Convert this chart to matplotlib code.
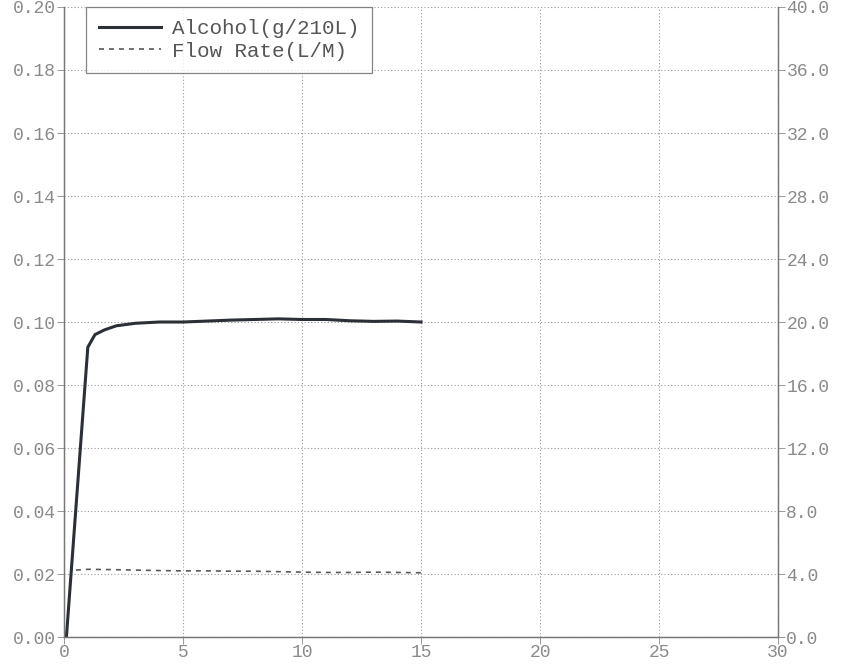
import matplotlib
matplotlib.use("Agg")
import matplotlib.pyplot as plt
from matplotlib.ticker import FormatStrFormatter

# breath test trace
time_s = [0, 0.1, 0.5, 1.0, 1.3, 1.7, 2.2, 3.0, 4.0, 5.0, 6.0, 7.0, 8.0,
          9.0, 10.0, 11.0, 12.0, 13.0, 14.0, 15.0]
alcohol = [0.0, 0.0, 0.041, 0.092, 0.096, 0.0975, 0.0988, 0.0996, 0.1000,
           0.1000, 0.1003, 0.1006, 0.1008, 0.1010, 0.1008, 0.1008, 0.1004,
           0.1002, 0.1003, 0.1000]

flow_t = [0.5, 1.0, 2.0, 3.0, 4.0, 5.0, 6.0, 7.0, 8.0, 9.0, 10.0, 11.0,
          12.0, 13.0, 14.0, 15.0]
flow_rate = [4.25, 4.3, 4.28, 4.25, 4.22, 4.2, 4.2, 4.18, 4.18, 4.15, 4.12,
             4.1, 4.1, 4.12, 4.1, 4.08]

x_ticks = [0, 5, 10, 15, 20, 25, 30]
left_ticks = [0.00, 0.02, 0.04, 0.06, 0.08, 0.10, 0.12, 0.14, 0.16, 0.18, 0.20]
right_ticks = [0.0, 4.0, 8.0, 12.0, 16.0, 20.0, 24.0, 28.0, 32.0, 36.0, 40.0]

mono = "Liberation Mono"
grey = "#8a8a8a"
ink = "#2b2f36"

fig = plt.figure(figsize=(8.64, 6.66), dpi=100)
ax = fig.add_axes([0.0741, 0.0435, 0.8264, 0.946])
ax2 = ax.twinx()

ln1, = ax.plot(time_s, alcohol, color=ink, lw=2.2, solid_joinstyle="round")
ln2, = ax2.plot(flow_t, flow_rate, color="#5a5a5a", lw=1.2,
                linestyle=(0, (3, 3)))

ax.set_xlim(0, 30)
ax.set_ylim(0, 0.20)
ax2.set_ylim(0, 40)
ax.set_xticks(x_ticks)
ax.set_yticks(left_ticks)
ax2.set_yticks(right_ticks)
ax.yaxis.set_major_formatter(FormatStrFormatter("%.2f"))
ax2.yaxis.set_major_formatter(FormatStrFormatter("%.1f"))

ax.grid(True, color="#9a9a9a", linestyle=(0, (1, 2)), linewidth=0.8)

for a in (ax, ax2):
    a.tick_params(colors=grey, labelcolor=grey, length=5, width=0.6,
                  labelsize=13, pad=1)
    for lbl in a.get_xticklabels() + a.get_yticklabels():
        lbl.set_fontfamily(mono)
    for sp in a.spines.values():
        sp.set_color("#777777")
        sp.set_linewidth(0.9)
    a.spines["top"].set_visible(False)
ax.tick_params(axis="x", pad=0)

leg = ax.legend([ln1, ln2], ["Alcohol(g/210L)", "Flow Rate(L/M)"],
                loc="upper left", bbox_to_anchor=(0.031, 1.0),
                borderaxespad=0.0,
                prop={"family": mono, "size": 15}, frameon=True,
                fancybox=False, borderpad=0.6, handlelength=3.0,
                labelspacing=0.15, handletextpad=0.5)
leg.get_frame().set_edgecolor("#666666")
leg.get_frame().set_linewidth(0.9)
for t in leg.get_texts():
    t.set_color("#555555")

fig.savefig("out.png", dpi=100)
